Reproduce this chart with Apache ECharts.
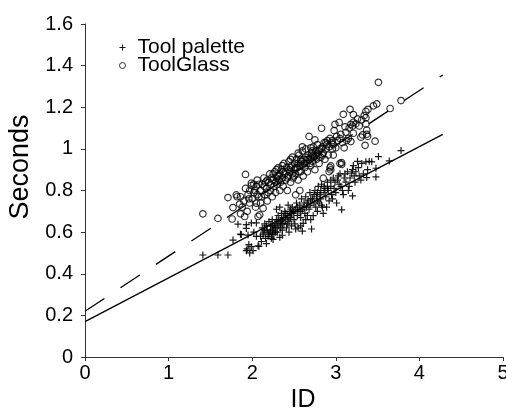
<!DOCTYPE html>
<html><head><meta charset="utf-8">
<script src="https://cdn.jsdelivr.net/npm/echarts@6/dist/echarts.min.js"></script>
<style>html,body{margin:0;padding:0;background:#fff}#c{width:506px;height:408px}</style>
</head><body><div id="c"></div>
<script>
var seriesNames = ['Tool palette', 'ToolGlass'];
var xTicks = [0, 1, 2, 3, 4, 5];
var yTicks = [0, 0.2, 0.4, 0.6, 0.8, 1, 1.2, 1.4, 1.6];
var fitX = [0, 4.28];
var paletteFit = [0.17, 1.07];
var glassFit = [0.22, 1.355];

var paletteData = [
[1.41,0.49],[1.59,0.49],[1.71,0.49],[1.77,0.562],[1.83,0.638],[1.86,0.59],[1.87,0.588],[1.93,0.636],[1.93,0.618],[1.93,0.511],
[1.94,0.52],[1.95,0.586],[1.96,0.54],[1.97,0.50],[1.99,0.53],[1.99,0.644],[2.01,0.511],[2.02,0.60],[2.05,0.644],[2.07,0.534],
[2.08,0.532],[2.1,0.58],[2.12,0.62],[2.14,0.60],[2.15,0.64],[2.16,0.57],[2.18,0.61],[2.19,0.58],[2.2,0.65],[2.21,0.60],
[2.22,0.63],[2.23,0.57],[2.24,0.66],[2.25,0.61],[2.26,0.59],[2.27,0.64],[2.28,0.62],[2.29,0.71],[2.29,0.66],[2.3,0.60],
[2.31,0.68],[2.32,0.63],[2.33,0.575],[2.33,0.72],[2.34,0.65],[2.35,0.69],[2.36,0.61],[2.37,0.67],[2.38,0.64],[2.39,0.70],
[2.4,0.66],[2.41,0.62],[2.42,0.68],[2.43,0.73],[2.44,0.65],[2.45,0.70],[2.46,0.67],[2.47,0.63],[2.48,0.72],[2.49,0.69],
[2.5,0.66],[2.51,0.64],[2.52,0.71],[2.53,0.74],[2.54,0.68],[2.55,0.62],[2.56,0.70],[2.57,0.73],[2.58,0.67],[2.59,0.76],
[2.6,0.605],[2.6,0.71],[2.61,0.642],[2.62,0.74],[2.63,0.69],[2.64,0.77],[2.65,0.72],[2.66,0.68],[2.67,0.75],[2.68,0.71],
[2.69,0.79],[2.7,0.73],[2.71,0.615],[2.72,0.76],[2.73,0.679],[2.74,0.74],[2.75,0.80],[2.76,0.72],[2.77,0.77],[2.78,0.75],
[2.79,0.82],[2.8,0.74],[2.81,0.78],[2.82,0.76],[2.83,0.83],[2.84,0.72],[2.85,0.69],[2.86,0.79],[2.87,0.81],[2.88,0.77],
[2.9,0.84],[2.91,0.80],[2.92,0.75],[2.94,0.82],[2.95,0.78],[2.97,0.86],[2.98,0.81],[3.0,0.79],[3.02,0.85],[3.04,0.83],
[3.05,0.88],[3.07,0.707],[3.08,0.80],[3.1,0.86],[3.12,0.84],[3.14,0.89],[3.16,0.82],[3.19,0.883],[3.2,0.774],[3.2,0.90],
[3.21,0.92],[3.24,0.89],[3.27,0.91],[3.3,0.85],[3.33,0.88],[3.36,0.938],[3.37,0.862],[3.4,0.94],[3.43,0.938],[3.48,0.907],
[3.48,0.865],[3.51,0.963],[3.64,0.942],[3.78,0.992],
[2.11,0.555],[2.17,0.545],[2.24,0.59],[2.36,0.585],[2.44,0.60],[2.52,0.615],[2.58,0.63],[2.64,0.66],[2.7,0.66],[2.78,0.70],
[2.83,0.73],[2.89,0.72],[2.96,0.76],[3.01,0.74],[3.09,0.78],[3.15,0.80],[3.23,0.84],[3.28,0.87],[2.35,0.66],[2.47,0.69],
[2.13,0.59],[2.15,0.61],[2.17,0.63],[2.2,0.59],[2.22,0.61],[2.24,0.63],[2.26,0.62],[2.28,0.60],[2.3,0.64],[2.32,0.66],
[2.34,0.62],[2.36,0.64],[2.38,0.67],[2.4,0.69],[2.42,0.64],[2.44,0.67],[2.46,0.71],[2.5,0.70],[2.54,0.72],[2.58,0.70],
[2.62,0.72],[2.66,0.74],[2.7,0.76],[2.74,0.78],[2.78,0.79],[2.82,0.80],[2.86,0.82],[2.9,0.81],[2.94,0.85],[2.99,0.84],
[3.03,0.87],[3.06,0.82],[3.11,0.88],[3.17,0.86],[3.22,0.87],[3.26,0.94],[3.31,0.93],[3.38,0.90],[2.25,0.565],[2.05,0.58]
];

var glassData = [
[1.41,0.688],[1.59,0.666],[1.71,0.766],[1.76,0.663],[1.77,0.718],[1.81,0.779],[1.82,0.77],[1.86,0.77],[1.86,0.688],[1.91,0.675],
[1.85,0.735],[1.88,0.72],[1.9,0.75],[1.92,0.877],[1.92,0.81],[1.97,0.80],[1.99,0.835],[1.99,0.824],[1.95,0.78],[1.94,0.70],
[1.97,0.74],[2.0,0.76],[2.02,0.79],[2.04,0.72],[2.05,0.739],[2.05,0.82],[2.06,0.85],[2.07,0.675],[2.08,0.77],[2.09,0.683],
[2.1,0.80],[2.1,0.74],[2.12,0.83],[2.13,0.715],[2.14,0.86],[2.15,0.78],[2.17,0.81],[2.18,0.75],[2.2,0.84],[2.21,0.88],
[2.22,0.80],[2.24,0.77],[2.25,0.85],[2.26,0.82],[2.27,0.89],[2.28,0.79],[2.29,0.86],[2.31,0.909],[2.3,0.83],[2.32,0.87],
[2.33,0.80],[2.34,0.84],[2.35,0.90],[2.36,0.86],[2.37,0.82],[2.38,0.93],[2.39,0.88],[2.4,0.85],[2.41,0.91],[2.42,0.80],
[2.43,0.87],[2.44,0.94],[2.45,0.89],[2.46,0.84],[2.47,0.92],[2.48,0.96],[2.49,0.86],[2.5,0.90],[2.51,0.93],[2.52,0.779],
[2.52,0.88],[2.53,0.95],[2.54,0.91],[2.55,0.85],[2.56,0.97],[2.57,0.80],[2.57,0.92],[2.58,0.89],[2.59,0.94],[2.6,0.99],
[2.61,0.87],[2.62,0.95],[2.63,0.91],[2.64,1.00],[2.65,0.93],[2.66,0.89],[2.67,0.97],[2.68,1.06],[2.68,0.95],[2.7,1.005],
[2.7,0.92],[2.71,0.98],[2.72,0.94],[2.73,1.01],[2.74,0.96],[2.75,1.043],[2.75,0.90],[2.76,0.99],[2.77,0.95],[2.78,1.02],
[2.79,0.97],[2.8,0.93],[2.81,1.00],[2.82,0.96],[2.83,1.099],[2.84,1.01],[2.85,0.859],[2.85,0.98],[2.86,1.03],[2.87,0.95],
[2.88,1.00],[2.9,1.04],[2.91,0.97],[2.92,0.891],[2.93,0.91],[2.93,1.05],[2.94,0.918],[2.94,0.899],[2.95,1.03],[2.96,1.00],
[2.97,0.97],[2.98,1.088],[2.99,1.118],[3.0,1.005],[3.02,1.04],[3.04,1.127],[3.05,0.93],[3.05,1.05],[3.07,0.934],[3.07,0.925],
[3.08,1.03],[3.09,1.166],[3.1,1.005],[3.11,1.106],[3.13,1.04],[3.15,1.05],[3.17,1.19],[3.18,1.118],[3.18,1.035],[3.21,1.165],
[3.21,1.128],[3.21,1.075],[3.26,1.144],[3.3,1.056],[3.32,1.067],[3.35,1.017],[3.36,1.18],[3.36,1.15],[3.36,1.12],[3.37,1.09],
[3.37,1.07],[3.38,1.06],[3.385,1.19],[3.45,1.207],[3.47,1.037],[3.49,1.216],[3.51,1.32],[3.65,1.194],[3.78,1.232],
[2.03,0.80],[2.08,0.83],[2.16,0.84],[2.19,0.79],[2.23,0.86],[2.28,0.84],[2.33,0.88],[2.37,0.89],[2.42,0.86],[2.46,0.91],
[2.5,0.87],[2.55,0.93],[2.6,0.92],[2.64,0.96],[2.69,0.93],[2.73,0.97],[2.78,0.98],[2.83,1.0],[2.89,1.02],[2.96,1.04],
[2.06,0.78],[2.11,0.77],[2.14,0.82],[2.18,0.85],[2.22,0.83],[2.25,0.88],[2.29,0.90],[2.32,0.85],[2.36,0.92],[2.4,0.89],
[2.44,0.90],[2.48,0.88],[2.52,0.91],[2.56,0.89],[2.58,0.95],[2.62,0.93],[2.66,0.95],[2.7,0.96],[2.72,0.99],[2.76,0.97],
[2.8,0.99],[2.84,0.97],[2.88,1.03],[2.92,1.01],[2.97,1.02],[3.01,1.06],[3.06,1.07],[3.12,1.08],[3.16,1.10],[3.2,1.11],
[3.24,1.12],[3.28,1.11],[3.31,1.14],[3.34,1.16],[2.46,0.95],[2.6,1.01],[2.55,0.98],[2.3,0.87],[2.02,0.83],[1.96,0.76]
];

var plusPath = 'path://M0,2.9h7v1.2h-7z M2.9,0h1.2v7h-1.2z';
var FONT = '"Liberation Sans", Arial, sans-serif';

var chart = echarts.init(document.getElementById('c'), null, {renderer: 'canvas'});
chart.setOption({
  animation: false,
  backgroundColor: '#fff',
  textStyle: {fontFamily: FONT},
  grid: {left: 85, right: 3, top: 24, bottom: 51, containLabel: false, outerBoundsMode: 'none'},
  legend: {
    orient: 'vertical', left: 119, top: 37, padding: 0, itemGap: -3,
    itemWidth: 20, itemHeight: 6,
    textStyle: {fontSize: 21, lineHeight: 18, color: '#000', fontFamily: FONT},
    data: [
      {name: seriesNames[0], icon: plusPath, itemStyle: {color: '#000', borderWidth: 0}},
      {name: seriesNames[1], icon: 'circle', itemStyle: {color: 'rgba(0,0,0,0)', borderColor: '#000', borderWidth: 1}}
    ]
  },
  xAxis: {
    type: 'value', min: xTicks[0], max: xTicks[xTicks.length - 1], interval: 1,
    name: 'ID', nameLocation: 'middle', nameGap: 28,
    nameTextStyle: {fontSize: 25, color: '#000', fontFamily: FONT, padding: [0, 0, 0, 18]},
    axisLine: {show: true, lineStyle: {color: '#333', width: 1}},
    axisTick: {show: true, length: 4, lineStyle: {color: '#333'}},
    axisLabel: {fontSize: 20, color: '#000', margin: 6, fontFamily: FONT},
    splitLine: {show: false}
  },
  yAxis: {
    type: 'value', min: yTicks[0], max: yTicks[yTicks.length - 1], interval: 0.2,
    name: 'Seconds', nameLocation: 'middle', nameGap: 50, nameRotate: 90,
    nameTextStyle: {fontSize: 27, color: '#000', fontFamily: FONT, padding: [0, 0, 0, 47]},
    axisLine: {show: true, lineStyle: {color: '#333', width: 1}},
    axisTick: {show: true, length: 4, lineStyle: {color: '#333'}},
    axisLabel: {fontSize: 20, color: '#000', margin: 12, fontFamily: FONT},
    splitLine: {show: false}
  },
  series: [
    {
      name: seriesNames[0], type: 'scatter', symbol: plusPath, symbolSize: 7,
      itemStyle: {color: '#000', opacity: 0.9},
      data: paletteData, z: 3
    },
    {
      name: seriesNames[1], type: 'scatter', symbol: 'circle', symbolSize: 6.5,
      itemStyle: {color: 'rgba(0,0,0,0)', borderColor: '#000', borderWidth: 1.2},
      data: glassData, z: 3
    },
    {
      name: 'fit1', type: 'line', symbol: 'none', silent: true,
      lineStyle: {color: '#000', width: 1.3, type: 'solid'},
      data: fitX.map(function (x, i) { return [x, paletteFit[i]]; }), z: 2
    },
    {
      name: 'fit2', type: 'line', symbol: 'none', silent: true,
      lineStyle: {color: '#000', width: 1.3, type: [23.2, 19.3]},
      data: fitX.map(function (x, i) { return [x, glassFit[i]]; }), z: 2
    }
  ]
});
</script></body></html>
